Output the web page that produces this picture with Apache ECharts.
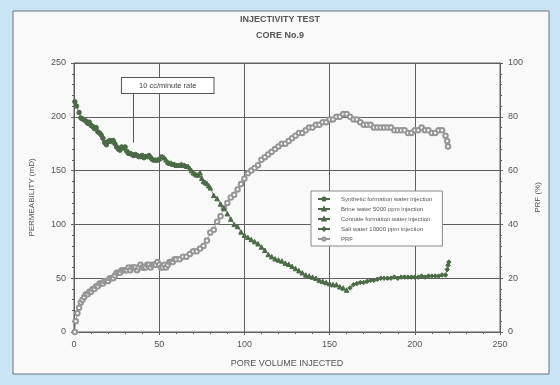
<!DOCTYPE html>
<html>
<head>
<meta charset="utf-8">
<script src="https://cdn.jsdelivr.net/npm/echarts@6/dist/echarts.min.js"></script>
<style>
  html, body { margin: 0; padding: 0; background: #c9e4f4; }
  #chart { width: 560px; height: 385px; }
</style>
</head>
<body>
<div id="chart"></div>
<script>
// Axis ticks
const xTicks = [0, 50, 100, 150, 200, 250];
const permTicks = [0, 50, 100, 150, 200, 250];
const prfTicks = [0, 20, 40, 60, 80, 100];

// Legend names
const seriesNames = [
  'Synthetic formation water injection',
  'Brine water 5000 ppm injection',
  'Connate formation water injection',
  'Salt water 10000 ppm injection',
  'PRF'
];

// Permeability (mD) vs pore volume injected, one array per injection stage
const permStage1 = [[0.5,214],[1.5,210],[3,204],[4,199],[5,198],[6,197],[7,196],[8,194],[9,195],[10,192],[11,191],[12,189],[13,190],[14,186],[15,185],[16,183],[17,180],[18,176],[19,174],[20,177],[21,178],[22,177],[23,178],[24,175],[25,172],[26,170],[27,169],[28,172],[29,171],[30,172],[31,168],[32,166],[33,166],[34,165],[35,164],[36,165],[37,164],[38,163],[39,163],[40,164],[41,162],[42,163],[43,163],[44,164],[45,162]];
const permStage2 = [[46,161],[47,160],[48,160],[49,160],[50,161],[51,163],[52,163],[53,162],[54,160],[55,158],[56,157],[57,157],[58,156],[59,156],[60,155],[61,155],[62,155],[63,156],[64,155],[65,155],[66,154],[67,154],[68,152],[69,150],[70,148],[71,147],[72,146],[73,146],[74,148],[75,143],[76,140],[77,139],[78,138],[79,136],[80,134],[82,127],[84,124],[86,119],[88,115],[90,110],[92,105],[94,100],[96,98],[98,93],[100,90]];
const permStage3 = [[102,88],[104,86],[106,84],[108,82],[110,79],[112,76],[114,72],[116,70],[118,68],[120,67],[122,66],[124,64],[126,63],[128,61],[130,59],[132,57],[134,55],[136,53],[138,52],[140,51],[142,50],[144,48],[146,47],[148,46],[150,45],[152,44],[154,44],[156,42],[158,41],[160,39]];
const permStage4 = [[162,41],[164,44],[166,45],[168,46],[170,46],[172,47],[174,48],[176,48],[178,49],[180,50],[182,50],[184,50],[186,50],[188,51],[190,50],[192,51],[194,51],[196,51],[198,51],[200,51],[202,51],[204,52],[206,51],[208,52],[210,52],[212,52],[214,52],[216,53],[218,53],[219,58],[219.5,62],[220,65]];

// Permeability reduction factor (%)
const prfValues = [[0.5,0],[1,4],[2,7],[3,9],[4,11],[5,12],[6,13],[7,14],[8,14],[9,15],[10,15],[11,16],[12,16],[13,17],[14,17],[15,18],[16,18],[17,18],[18,19],[19,19],[20,19],[21,20],[22,20],[23,20],[24,21],[25,22],[26,22],[27,22],[28,23],[29,23],[30,23],[31,23],[32,24],[33,23],[34,24],[35,24],[36,24],[37,23],[38,24],[39,25],[40,24],[41,24],[42,24],[43,25],[44,25],[45,24],[46,25],[47,25],[48,25],[49,26],[50,25],[51,24],[52,24],[53,25],[54,24],[55,25],[56,26],[57,26],[58,26],[59,27],[60,27],[62,27],[64,28],[66,28],[68,29],[70,30],[72,30],[74,31],[76,32],[78,34],[80,37],[82,38],[84,41],[86,43],[88,46],[90,48],[92,50],[94,51],[96,53],[98,55],[100,57],[102,59],[104,60],[106,61],[108,62],[110,64],[112,65],[114,66],[116,67],[118,68],[120,69],[122,70],[124,70],[126,71],[128,72],[130,73],[132,74],[134,74],[136,75],[138,76],[140,76],[142,77],[144,77],[146,78],[148,78],[150,79],[152,79],[154,80],[156,80],[158,81],[160,81],[162,80],[164,79],[166,79],[168,78],[170,77],[172,77],[174,77],[176,76],[178,76],[180,76],[182,76],[184,76],[186,76],[188,75],[190,75],[192,75],[194,75],[196,74],[198,74],[200,75],[202,75],[204,76],[206,75],[208,75],[210,74],[212,74],[214,75],[216,75],[218,73],[219,71],[219.5,69]];

// Rate-change annotation: text box above, arrow down to the curve
const noteText = '10 cc/minute rate';
const noteArrow = [[35, 222], [35, 176]];
const noteAnchor = [55, 229];

const axisGrey = '#5f5f5f';
const textGrey = '#555';
const permColor = '#4c6a47';
const prfColor = '#969696';
const font = 'Arial, "Liberation Sans", sans-serif';

const chart = echarts.init(document.getElementById('chart'), null, { renderer: 'canvas' });

function permSeries(name, data, symbol) {
  return {
    name, type: 'line', data, yAxisIndex: 0,
    symbol, symbolSize: 4.5,
    lineStyle: { color: permColor, width: 0.8 },
    itemStyle: { color: permColor, borderColor: permColor, borderWidth: 1 },
    emphasis: { disabled: true },
    z: 3
  };
}

const option = {
  animation: false,
  backgroundColor: 'transparent',
  textStyle: { fontFamily: font },
  title: {
    text: 'INJECTIVITY TEST\nCORE No.9',
    left: 'center', top: 7,
    textStyle: { fontSize: 9, fontWeight: 'bold', color: textGrey, lineHeight: 16, fontFamily: font }
  },
  grid: { left: 74, right: 60, top: 63, bottom: 53, show: true, borderColor: axisGrey, borderWidth: 1, backgroundColor: 'transparent' },
  legend: {
    orient: 'vertical', left: 311, top: 191,
    itemWidth: 12, itemHeight: 4, itemGap: 4,
    padding: [5, 10, 4, 6],
    backgroundColor: '#ffffff', borderColor: '#8a8a8a', borderWidth: 1, borderRadius: 0,
    textStyle: { fontSize: 6, color: textGrey, fontFamily: font, padding: [0, 0, 0, 6] },
    data: seriesNames.map(n => ({ name: n }))
  },
  xAxis: {
    type: 'value', min: xTicks[0], max: xTicks[xTicks.length - 1], interval: 50,
    name: 'PORE VOLUME INJECTED', nameLocation: 'middle', nameGap: 27,
    nameTextStyle: { fontSize: 9, color: textGrey, fontFamily: font },
    axisLine: { show: true, lineStyle: { color: axisGrey } },
    axisTick: { show: true, inside: false, length: 3, lineStyle: { color: axisGrey } },
    minorTick: { show: true, splitNumber: 5, length: 2, lineStyle: { color: axisGrey } },
    axisLabel: { fontSize: 9, color: textGrey, margin: 8 },
    splitLine: { show: true, lineStyle: { color: axisGrey, width: 1 } }
  },
  yAxis: [
    {
      type: 'value', min: permTicks[0], max: permTicks[permTicks.length - 1], interval: 50,
      name: 'PERMEABILITY (mD)', nameLocation: 'middle', nameGap: 38,
      nameTextStyle: { fontSize: 8, color: textGrey, fontFamily: font },
      axisLine: { show: true, lineStyle: { color: axisGrey } },
      axisTick: { show: true, length: 3, lineStyle: { color: axisGrey } },
      minorTick: { show: true, splitNumber: 5, length: 2, lineStyle: { color: axisGrey } },
      axisLabel: { fontSize: 9, color: textGrey, margin: 8 },
      splitLine: { show: true, lineStyle: { color: axisGrey, width: 1 } }
    },
    {
      type: 'value', min: prfTicks[0], max: prfTicks[prfTicks.length - 1], interval: 20,
      position: 'right',
      name: 'PRF (%)', nameLocation: 'middle', nameGap: 30, nameRotate: 90,
      nameTextStyle: { fontSize: 8, color: textGrey, fontFamily: font },
      axisLine: { show: true, lineStyle: { color: axisGrey } },
      axisTick: { show: true, length: 3, lineStyle: { color: axisGrey } },
      minorTick: { show: true, splitNumber: 5, length: 2, lineStyle: { color: axisGrey } },
      axisLabel: { fontSize: 9, color: textGrey, margin: 8 },
      splitLine: { show: false }
    }
  ],
  series: [
    Object.assign(permSeries(seriesNames[0], permStage1, 'circle'), {
      markLine: {
        silent: true, symbol: ['none', 'triangle'], symbolSize: [0, 7],
        lineStyle: { color: '#555', width: 1, type: 'solid' },
        label: { show: false },
        data: [[{ coord: noteArrow[0] }, { coord: noteArrow[1] }]]
      },
      markPoint: {
        silent: true, symbol: 'rect', symbolSize: 1,
        itemStyle: { color: 'rgba(0,0,0,0)' },
        label: {
          show: true, position: 'inside',
          formatter: noteText, fontSize: 7.5, color: '#444',
          backgroundColor: '#ffffff', borderColor: '#555', borderWidth: 1,
          padding: [4, 17, 3, 17]
        },
        data: [{ coord: noteAnchor }]
      }
    }),
    permSeries(seriesNames[1], permStage2, 'triangle'),
    permSeries(seriesNames[2], permStage3, 'triangle'),
    permSeries(seriesNames[3], permStage4, 'diamond'),
    {
      name: seriesNames[4], type: 'line', data: prfValues, yAxisIndex: 1,
      symbol: 'emptyCircle', symbolSize: 4.5,
      lineStyle: { color: prfColor, width: 0.8 },
      itemStyle: { color: prfColor, borderColor: prfColor, borderWidth: 0.8 },
      emphasis: { disabled: true },
      z: 2
    }
  ],
  graphic: [
    {
      type: 'rect', z: -10, silent: true,
      shape: { x: 13, y: 11, width: 536, height: 363 },
      style: { fill: '#f8f9f8', stroke: '#6d7378', lineWidth: 1 }
    }
  ]
};

chart.setOption(option);
</script>
</body>
</html>
